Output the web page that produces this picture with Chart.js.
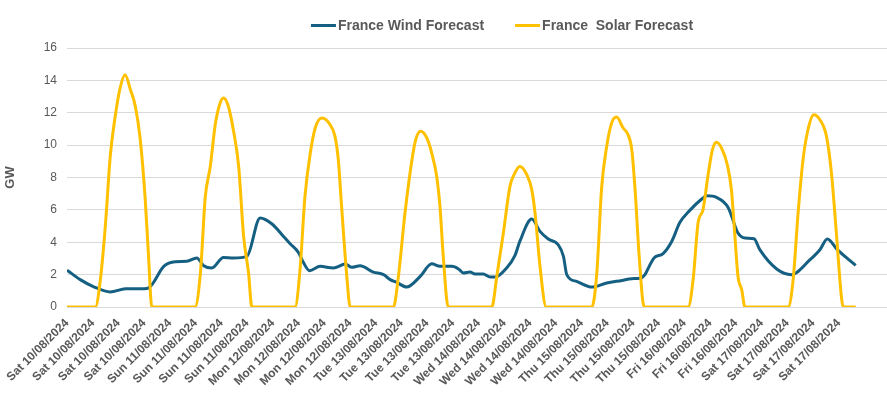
<!DOCTYPE html>
<html>
<head>
<meta charset="utf-8">
<title>France Wind & Solar Forecast</title>
<script src="https://cdn.jsdelivr.net/npm/chart.js@4.4.1/dist/chart.umd.min.js"></script>
<style>
html,body{margin:0;padding:0;background:#fff}
#wrap{width:887px;height:396px}
</style>
</head>
<body>
<div id="wrap"><canvas id="chart" width="887" height="396"></canvas></div>
<script>
// Axis labels (one every 6.25 h, as on the original sheet)
const tickLabels = [
  'Sat 10/08/2024','Sat 10/08/2024','Sat 10/08/2024','Sat 10/08/2024',
  'Sun 11/08/2024','Sun 11/08/2024','Sun 11/08/2024','Sun 11/08/2024',
  'Mon 12/08/2024','Mon 12/08/2024','Mon 12/08/2024','Mon 12/08/2024',
  'Tue 13/08/2024','Tue 13/08/2024','Tue 13/08/2024','Tue 13/08/2024',
  'Wed 14/08/2024','Wed 14/08/2024','Wed 14/08/2024','Wed 14/08/2024',
  'Thu 15/08/2024','Thu 15/08/2024','Thu 15/08/2024','Thu 15/08/2024',
  'Fri 16/08/2024','Fri 16/08/2024','Fri 16/08/2024',
  'Sat 17/08/2024','Sat 17/08/2024','Sat 17/08/2024','Sat 17/08/2024'
];
const tickHours = tickLabels.map((_, i) => i * 6.25);

// Wind forecast (hours since Sat 10/08 00:00, GW)
const windHours = [0,3.2,6.5,10.5,14.2,19.4,20.6,23.5,26.3,29.1,31.5,33.2,35.2,38.0,40.4,43.7,46.9,49.8,52.6,54.2,56.2,57.4,58.9,61.5,64.7,67.6,69.2,71.2,74.4,76.9,78.5,80.1,82.5,85.8,88.6,90.6,93.5,95.1,96.3,97.9,99.1,101.1,102.8,104.0,106.8,108.8,110.0,112.9,114.9,116.9,119.3,120.6,121.4,123.8,127.5,131.1,134.8,137.2,139.2,140.4,141.6,142.6,144.8,146.9,148.9,151.3,154.2,155.4,157.8,160.6,163.0,164.7,166.9,168.3,172.4,176.0,180.5,182.9,184.7,187.0,191.6];
const windGW    = [2.28,1.69,1.25,0.93,1.12,1.15,1.38,2.51,2.8,2.82,3.03,2.55,2.41,3.06,3.03,3.13,5.5,5.13,4.36,3.91,3.37,2.76,2.24,2.51,2.41,2.65,2.45,2.55,2.16,2.0,1.69,1.52,1.23,1.89,2.67,2.51,2.51,2.35,2.1,2.16,2.04,2.04,1.85,1.85,2.41,3.17,4.05,5.43,4.67,4.2,3.85,3.13,2.0,1.58,1.23,1.48,1.64,1.75,1.77,2.0,2.6,3.03,3.3,4.05,5.23,5.97,6.67,6.87,6.77,6.15,4.57,4.26,4.22,3.54,2.35,2.0,2.92,3.54,4.2,3.58,2.57];

// Solar forecast (hours since Sat 10/08 00:00, GW)
const solarHours = [0,6.9,8.1,9.3,10.5,11.7,12.9,14.1,15.4,16.6,17.8,19.0,19.8,20.6,
  31.1,32.4,33.6,34.8,36.0,37.2,38.0,39.2,40.4,41.7,42.9,44.1,44.9,
  55.4,56.6,57.8,59.1,60.3,61.9,63.9,65.1,65.9,66.7,67.9,68.8,
  79.3,80.5,82.1,83.8,84.7,85.9,87.4,88.6,89.8,90.6,91.4,92.6,
  103.2,104.4,106.0,107.6,108.8,110.0,111.7,112.9,113.7,114.9,116.4,
  127.5,128.7,129.9,131.1,132.3,133.5,135.1,136.3,137.2,138.0,139.0,140.2,
  150.9,152.1,153.3,154.5,155.8,156.8,157.8,159.0,160.4,161.4,162.2,163.0,163.9,164.7,
  175.2,176.4,177.6,178.8,180.0,181.4,182.9,184.5,185.7,186.9,188.2,188.6,191.6];
const solarGW = [0,0,1.69,4.98,9.3,11.77,13.53,14.35,13.42,12.39,10.33,6.63,3.13,0,
  0,2.1,6.83,8.68,11.26,12.6,12.91,12.39,10.95,8.68,4.36,2.1,0,
  0,2.3,6.83,9.51,11.06,11.67,11.26,10.54,9.1,6.21,2.1,0,
  0,1.89,5.8,9.1,10.33,10.85,10.44,9.51,8.07,6.21,3.13,0,
  0,1.89,4.57,7.45,8.28,8.68,8.17,7.25,5.8,2.51,0,
  0,2.1,7.45,9.92,11.36,11.73,11.06,10.64,9.72,7.25,3.13,0,
  0,1.69,5.19,6.01,8.28,9.72,10.17,9.82,8.79,7.25,4.57,1.89,1.07,0,
  0,1.69,5.8,9.1,10.95,11.88,11.57,10.54,8.28,4.57,0.45,0,0];

const FONT = '"Liberation Sans", Arial, sans-serif';
const GREY = '#595959';

// Legend drawn above the plot, offset to the right like the original
const TopLegend = {
  id: 'topLegend',
  afterDraw(chart){
    const {ctx} = chart;
    ctx.save();
    ctx.font = 'bold 14px ' + FONT;
    const items = chart.data.datasets.map(ds => ({text: ds.label, color: ds.borderColor, w: ctx.measureText(ds.label).width}));
    const sample = 25, gap = 2, between = 31;
    const total = items.reduce((s, it) => s + sample + gap + it.w, 0) + between * (items.length - 1);
    let x = 502 - total / 2;
    const y = 25.5;
    items.forEach(it => {
      ctx.strokeStyle = it.color; ctx.lineWidth = 3;
      ctx.beginPath(); ctx.moveTo(x, y); ctx.lineTo(x + sample, y); ctx.stroke();
      ctx.fillStyle = GREY; ctx.textBaseline = 'middle'; ctx.textAlign = 'left';
      ctx.fillText(it.text, x + sample + gap, y + 1);
      x += sample + gap + it.w + between;
    });
    ctx.restore();
  }
};

const toPoints = (xs, ys) => xs.map((h, i) => ({x: h, y: ys[i]}));

new Chart(document.getElementById('chart').getContext('2d'), {
  type: 'line',
  data: {
    datasets: [
      {label: 'France Wind Forecast', data: toPoints(windHours, windGW), borderColor: '#156082', backgroundColor: '#156082',
       borderWidth: 3, pointRadius: 0, cubicInterpolationMode: 'monotone', order: 1},
      {label: 'France  Solar Forecast', data: toPoints(solarHours, solarGW), borderColor: '#FFC000', backgroundColor: '#FFC000',
       borderWidth: 3, pointRadius: 0, cubicInterpolationMode: 'monotone', order: 0}
    ]
  },
  options: {
    responsive: false,
    animation: false,
    layout: {padding: {top: 48, right: 0, bottom: 0, left: 0}},
    plugins: {legend: {display: false}, tooltip: {enabled: false}},
    scales: {
      x: {
        type: 'linear', min: 0, max: 199.2,
        afterBuildTicks: s => { s.ticks = tickHours.map(v => ({value: v})); },
        afterFit: s => { s.height = 89; },
        grid: {display: false, drawTicks: false},
        border: {display: false},
        ticks: {autoSkip: false, minRotation: 45, maxRotation: 45, padding: 9, color: GREY,
          font: {family: FONT, size: 12, weight: 'bold'},
          callback: (v, i) => tickLabels[i]}
      },
      y: {
        min: 0, max: 16,
        afterFit: s => { s.width = 67; },
        grid: {color: '#d9d9d9', drawTicks: false},
        border: {display: false},
        ticks: {stepSize: 2, padding: 10, color: GREY, font: {family: FONT, size: 12}},
        title: {display: true, text: 'GW', color: GREY, font: {family: FONT, size: 13, weight: 'bold'}, padding: {top: 3, bottom: 0}}
      }
    }
  },
  plugins: [TopLegend]
});
</script>
</body>
</html>
